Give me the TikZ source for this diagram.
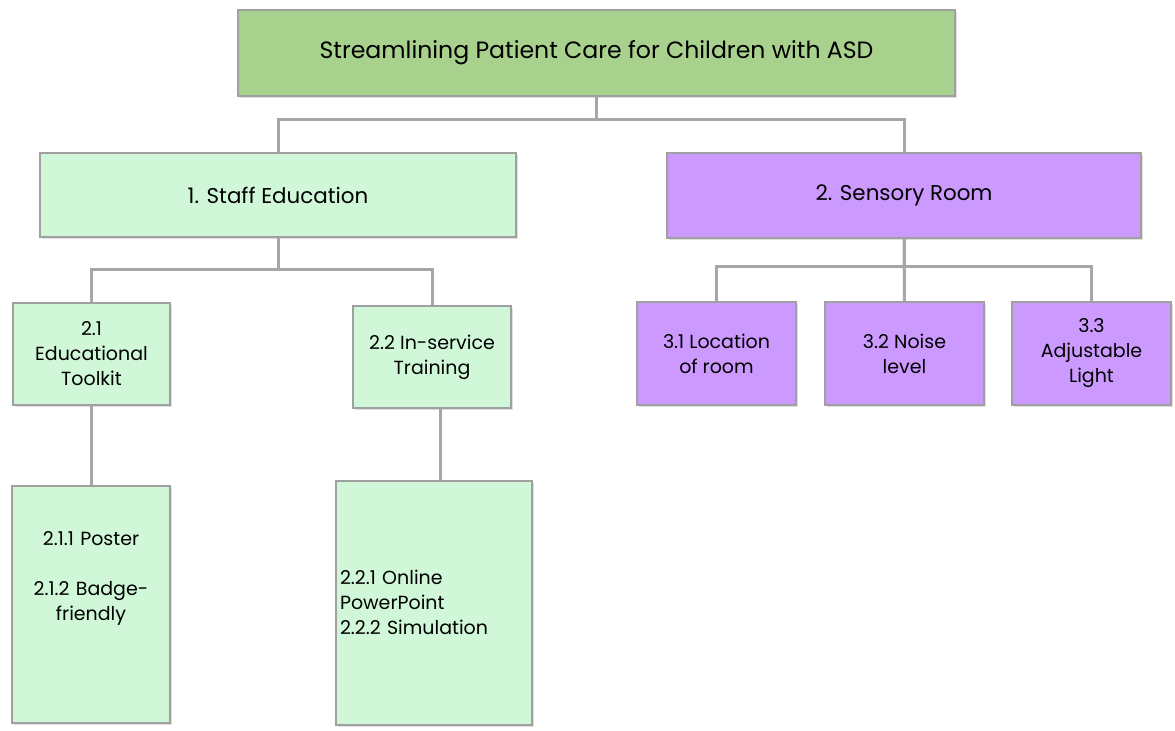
\documentclass[tikz,border=0pt]{standalone}
\usepackage{fontspec}
\setmainfont{Poppins}
\usepackage{xcolor}
\usetikzlibrary{calc,shadows}

\definecolor{topgreen}{HTML}{A9D18E}
\definecolor{mint}{HTML}{D0F8D8}
\definecolor{lilac}{HTML}{CC99FF}
\definecolor{edge}{HTML}{A0A0A0}
\definecolor{wire}{HTML}{A6A6A6}

\begin{document}
\begin{tikzpicture}[x=0.5pt,y=-0.5pt,
  box/.style={draw=edge, line width=1pt, rectangle, align=center, inner sep=2pt,
    font=\fontsize{9.5}{12.5}\selectfont,
    drop shadow={shadow xshift=1pt, shadow yshift=-1pt, opacity=0.25, fill=gray}},
  greenbox/.style={box, fill=mint},
  purplebox/.style={box, fill=lilac},
  branchbox/.style={font=\fontsize{10.7}{13}\selectfont},
  link/.style={draw=wire, line width=1.5pt}]

\useasboundingbox (0,0) rectangle (1175,730);

% Draw top box
\node[box, fill=topgreen, minimum width=358.5pt, minimum height=43pt,
  font=\fontsize{11.8}{14}\selectfont] (title) at (596.5,53)
  {Streamlining Patient Care for Children with ASD};

% Draw main branches
\node[greenbox, branchbox, minimum width=238pt, minimum height=42pt] (staff) at (278,195) {1. Staff Education};
\node[purplebox, branchbox, minimum width=237pt, minimum height=42.5pt] (sensory) at (904,195.5) {2. Sensory Room};

% Draw staff education parts
\node[greenbox, minimum width=78.5pt, minimum height=51pt] (kit) at (91.5,354) {2.1\\Educational\\Toolkit};
\node[greenbox, minimum width=79pt, minimum height=51pt] (ins) at (432,357) {2.2 In-service\\Training};

\node[greenbox, anchor=north, inner sep=0pt, text width=79pt, text height=29.5pt, text depth=89pt]
  (poster) at (91,485) {2.1.1 Poster\\[12.5pt]2.1.2 Badge-\\friendly};
\node[greenbox, anchor=north, align=left, inner xsep=2pt, inner ysep=0pt, text width=94pt,
  text height=51.5pt, text depth=70.5pt]
  (sim) at (434,480) {2.2.1 Online\\PowerPoint\\2.2.2 Simulation};

% Draw sensory room parts
\node[purplebox, minimum width=79.5pt, minimum height=51.5pt] (loc) at (716.5,353.5) {3.1 Location\\of room};
\node[purplebox, minimum width=79.5pt, minimum height=51.5pt] (noise) at (904.5,353.5) {3.2 Noise\\level};
\node[purplebox, minimum width=79.5pt, minimum height=51.5pt] (light) at (1091.5,353.5) {3.3\\Adjustable\\Light};

% Draw connectors
\draw[link] (title.south) -- ++(0,22) -| (staff.north);
\draw[link] (title.south) -- ++(0,22) -| (sensory.north);

\draw[link] (staff.south) -- ++(0,31) -| (kit.north);
\draw[link] (staff.south) -- ++(0,31) -| (ins.north);
\draw[link] (kit.south) -- (kit.south |- poster.north);
\draw[link] ([xshift=4pt]ins.south) -- ([xshift=4pt]ins.south |- sim.north);

\draw[link] (sensory.south) -- ++(0,27) -| (loc.north);
\draw[link] (sensory.south) -- (noise.north);
\draw[link] (sensory.south) -- ++(0,27) -| (light.north);

\end{tikzpicture}
\end{document}
